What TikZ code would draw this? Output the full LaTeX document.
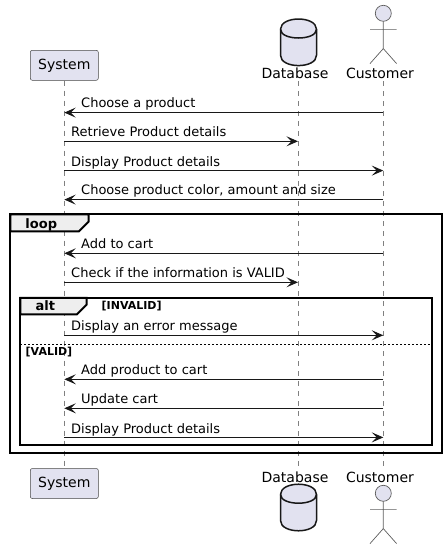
\documentclass[tikz,border=0pt]{standalone}
\usepackage{fontspec}
\setmainfont{DejaVu Sans}
\usetikzlibrary{arrows.meta}
\definecolor{cPart}{RGB}{226,226,240}
\definecolor{cLine}{RGB}{24,24,24}
\definecolor{cTab}{RGB}{238,238,238}
\begin{document}
\begin{tikzpicture}[x=1pt, y=-1pt, >={Stealth[length=11.5pt, width=10pt, inset=5pt]}, font=\fontsize{13}{15}\selectfont]

% ------------------- styles -------------------
\tikzstyle{partbox} = [draw=cLine!80, line width=0.5pt, fill=cPart, rounded corners=2pt, minimum width=68pt, minimum height=30pt, inner sep=0, font=\fontsize{14}{16}\selectfont]
\tikzstyle{partlabel} = [anchor=base, inner sep=0, font=\fontsize{14}{16}\selectfont]
\tikzstyle{lifeline} = [draw=cLine!55, line width=0.5pt, dash pattern=on 5pt off 5pt]
\tikzstyle{msg} = [->, draw=cLine, line width=1pt]
\tikzstyle{msglabel} = [anchor=base west, inner sep=0]
\tikzstyle{frame} = [draw=black, line width=2pt]
\tikzstyle{tab} = [draw=black, line width=2pt, fill=cTab]
\tikzstyle{framelabel} = [anchor=base, inner sep=0, font=\fontsize{13}{15}\selectfont\bfseries]
\tikzstyle{guard} = [anchor=base west, inner sep=0, font=\fontsize{11}{13}\selectfont\bfseries]
\tikzset{
  database/.pic={
    \draw[draw=cLine, line width=1.5pt, fill=cPart] (-18,-13) .. controls (-18,-26.7) and (18,-26.7) .. (18,-13) -- (18,13) .. controls (18,26.7) and (-18,26.7) .. (-18,13) -- cycle;
    \draw[draw=cLine, line width=1.5pt] (-18,-13) .. controls (-18,-1.4) and (18,-1.4) .. (18,-13);
  },
  actor/.pic={
    \draw[draw=cLine!70, line width=0.7pt, fill=cPart] (0,8) circle (8);
    \draw[draw=cLine!70, line width=0.7pt] (0,16) -- (0,43.3) (-13.3,24.3) -- (13.3,24.3) (-13.3,58.3) -- (0,43.3) -- (13.3,58.3);
  }
}
\useasboundingbox (0,0) rectangle (446,549);

% ------------------- participants -------------------
\node[partbox] (sysTop) at (64.3,65.3) {System};
\node[partbox] (sysBot) at (64.3,483.5) {System};
\node[partlabel] (dbTopLabel) at (295,78) {Database};
\node[partlabel] (dbBotLabel) at (295,482) {Database};
\node[partlabel] (custTopLabel) at (380,78) {Customer};
\node[partlabel] (custBotLabel) at (380,482) {Customer};
\pic at (298.5,42.3) {database};
\pic at (298.5,507.5) {database};
\pic at (383.3,5.3) {actor};
\pic at (383.3,485.3) {actor};

% ------------------- lifelines -------------------
\coordinate (dbTop) at (298,81);
\coordinate (dbBot) at (298,468);
\coordinate (custTop) at (383.3,81);
\coordinate (custBot) at (383.3,468);
\draw[lifeline] (sysTop.south) -- (sysBot.north);
\draw[lifeline] (dbTop) -- (dbBot);
\draw[lifeline] (custTop) -- (custBot);

% ------------------- loop / alt frames -------------------
\draw[frame] (10.3,214.3) rectangle (441.7,452.5);
\draw[tab] (10.3,214.3) -- (88.7,214.3) -- (88.7,221.5) -- (79,231.3) -- (10.3,231.3) -- cycle;
\node[framelabel] (loopLabel) at (41.3,228.3) {loop};

\draw[frame] (20.3,297.8) rectangle (431.7,445.3);
\draw[tab] (20.3,297.8) -- (86.7,297.8) -- (86.7,304.5) -- (77,314.3) -- (20.3,314.3) -- cycle;
\node[framelabel] (altLabel) at (45.3,310) {alt};
\node[guard] (invalid) at (101.5,309) {[INVALID]};
\coordinate (altL) at (20.3,344);
\coordinate (altR) at (431.7,344);
\draw[draw=black, line width=0.5pt, dash pattern=on 2pt off 2pt] (altL) -- (altR);
\node[guard] (valid) at (25.5,355) {[VALID]};

% ------------------- message ends -------------------
\foreach \n/\y in {1/112.6, 2/141.3, 3/170.6, 4/199.6, 5/253.3, 6/282.3, 7/335.3, 8/379.3, 9/408.3, 10/437.4} {
  \coordinate (s\n) at (64.3,\y);
  \coordinate (d\n) at (298,\y);
  \coordinate (c\n) at (383.3,\y);
}

% ------------------- messages -------------------
\draw[msg] (c1) -- (s1);
\node[msglabel] (m1) at ([xshift=16.7pt,yshift=5pt]s1) {Choose a product};
\draw[msg] (s2) -- (d2);
\node[msglabel] (m2) at ([xshift=6.7pt,yshift=5pt]s2) {Retrieve Product details};
\draw[msg] (s3) -- (c3);
\node[msglabel] (m3) at ([xshift=6.7pt,yshift=4.4pt]s3) {Display Product details};
\draw[msg] (c4) -- (s4);
\node[msglabel] (m4) at ([xshift=16.7pt,yshift=5pt]s4) {Choose product color, amount and size};
\draw[msg] (c5) -- (s5);
\node[msglabel] (m5) at ([xshift=16.7pt,yshift=5pt]s5) {Add to cart};
\draw[msg] (s6) -- (d6);
\node[msglabel] (m6) at ([xshift=6.7pt,yshift=5pt]s6) {Check if the information is VALID};
\draw[msg] (s7) -- (c7);
\node[msglabel] (m7) at ([xshift=6.7pt,yshift=5pt]s7) {Display an error message};
\draw[msg] (c8) -- (s8);
\node[msglabel] (m8) at ([xshift=16.7pt,yshift=5pt]s8) {Add product to cart};
\draw[msg] (c9) -- (s9);
\node[msglabel] (m9) at ([xshift=16.7pt,yshift=5pt]s9) {Update cart};
\draw[msg] (s10) -- (c10);
\node[msglabel] (m10) at ([xshift=6.7pt,yshift=4.4pt]s10) {Display Product details};

\end{tikzpicture}
\end{document}
